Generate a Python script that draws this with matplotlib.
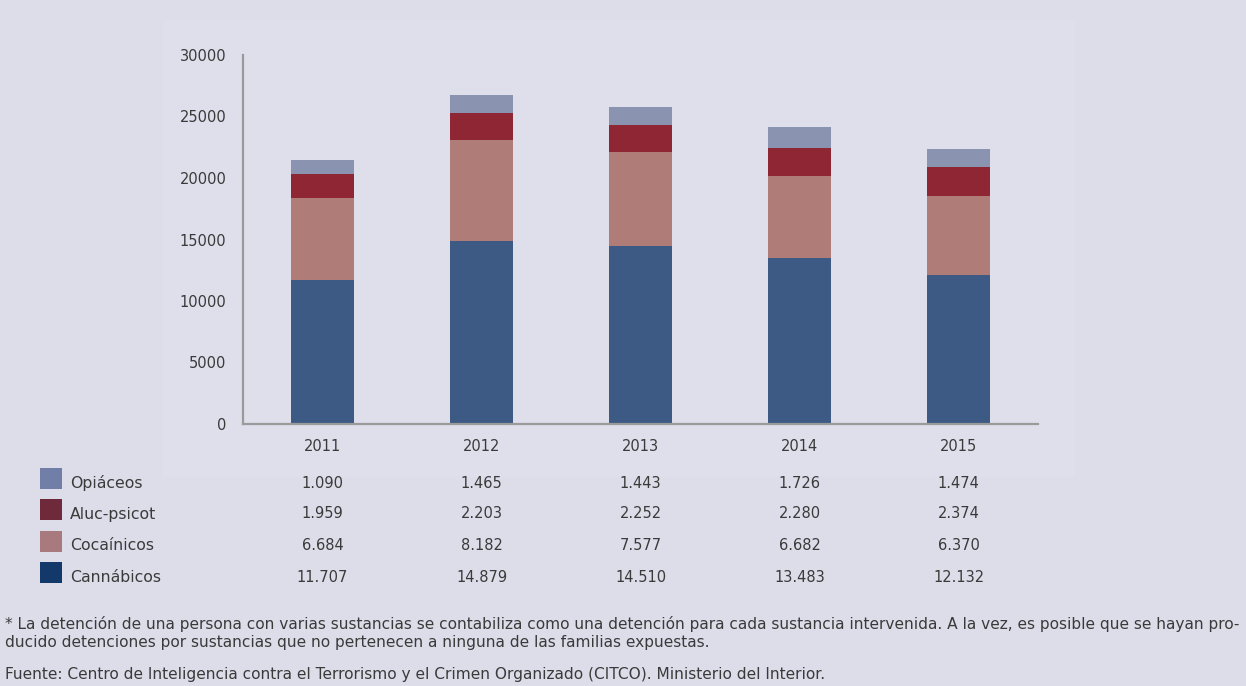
import matplotlib
matplotlib.use("Agg")
import matplotlib.pyplot as plt
from matplotlib.patches import Rectangle
from matplotlib.transforms import blended_transform_factory

years = ["2011", "2012", "2013", "2014", "2015"]
series_names = ["Opiáceos", "Aluc-psicot", "Cocaínicos", "Cannábicos"]
cannabicos = [11707, 14879, 14510, 13483, 12132]
cocainicos = [6684, 8182, 7577, 6682, 6370]
aluc_psicot = [1959, 2203, 2252, 2280, 2374]
opiaceos = [1090, 1465, 1443, 1726, 1474]
y_ticks = [0, 5000, 10000, 15000, 20000, 25000, 30000]

bar_colors = {"Cannábicos": "#3c5a84", "Cocaínicos": "#b07c78",
              "Aluc-psicot": "#8e2633", "Opiáceos": "#8a93b0"}
legend_colors = {"Cannábicos": "#13386a", "Cocaínicos": "#a87a7d",
                 "Aluc-psicot": "#6e2a3b", "Opiáceos": "#707ea8"}

W, H = 1246, 686
plt.rcParams["font.family"] = ["DejaVu Sans"]
text_col = "#3a3a3a"

fig = plt.figure(figsize=(W / 100, H / 100), dpi=100)
fig.patch.set_facecolor("#dcdde9")

def fx(px):
    return px / W

def fy(py):
    return 1 - py / H

# lighter panel behind the chart
fig.patches.append(Rectangle((fx(163), fy(477)), fx(1075) - fx(163), fy(20) - fy(477),
                             transform=fig.transFigure, facecolor="#dedfeb",
                             edgecolor="none", zorder=-5))

ax = fig.add_axes([fx(243), fy(424), fx(1038) - fx(243), fy(55) - fy(424)])
ax.set_facecolor("none")
ax.set_zorder(2)

x = list(range(len(years)))
stack = [("Cannábicos", cannabicos), ("Cocaínicos", cocainicos),
         ("Aluc-psicot", aluc_psicot), ("Opiáceos", opiaceos)]
bottom = [0] * len(years)
for name, vals in stack:
    ax.bar(x, vals, width=0.4, bottom=bottom, color=bar_colors[name],
           edgecolor="none", zorder=2)
    bottom = [b + v for b, v in zip(bottom, vals)]

ax.set_xlim(-0.5, len(years) - 0.5)
ax.set_ylim(0, 30000)
ax.set_yticks(y_ticks)
ax.set_yticklabels([str(t) for t in y_ticks], fontsize=10.5, color=text_col)
ax.set_xticks(x)
ax.set_xticklabels(years, fontsize=10.5, color=text_col)
ax.tick_params(axis="both", length=0)
ax.tick_params(axis="y", pad=12)
ax.tick_params(axis="x", pad=11)
for s in ["top", "right"]:
    ax.spines[s].set_visible(False)
for s in ["left", "bottom"]:
    ax.spines[s].set_color("#9a9a9a")
    ax.spines[s].set_linewidth(1.6)

# data table under the chart
rows = [("Opiáceos", opiaceos, 483), ("Aluc-psicot", aluc_psicot, 514),
        ("Cocaínicos", cocainicos, 546), ("Cannábicos", cannabicos, 577)]
trans = blended_transform_factory(ax.transData, fig.transFigure)

def fmt(v):
    return f"{v:,}".replace(",", ".")

for name, vals, py in rows:
    fig.patches.append(Rectangle((fx(40), fy(py + 6)), fx(22), fy(0) - fy(21),
                                 transform=fig.transFigure,
                                 facecolor=legend_colors[name], edgecolor="none"))
    fig.text(fx(70), fy(py), name, fontsize=11.3, color=text_col, va="center", ha="left")
    for xi, v in zip(x, vals):
        fig.text(xi, fy(py), fmt(v), transform=trans, fontsize=10.5, color=text_col,
                 va="center", ha="center")

note1 = ("* La detención de una persona con varias sustancias se contabiliza como una detención para cada "
         "sustancia intervenida. A la vez, es posible que se hayan pro-")
note2 = "ducido detenciones por sustancias que no pertenecen a ninguna de las familias expuestas."
note3 = "Fuente: Centro de Inteligencia contra el Terrorismo y el Crimen Organizado (CITCO). Ministerio del Interior."
fs_note = 11.05
fig.text(fx(5), fy(624), note1, fontsize=fs_note, color=text_col, va="center", ha="left")
fig.text(fx(5), fy(643), note2, fontsize=fs_note, color=text_col, va="center", ha="left")
fig.text(fx(5), fy(675), note3, fontsize=fs_note, color=text_col, va="center", ha="left")

fig.savefig("out.png", dpi=100, facecolor=fig.get_facecolor())
